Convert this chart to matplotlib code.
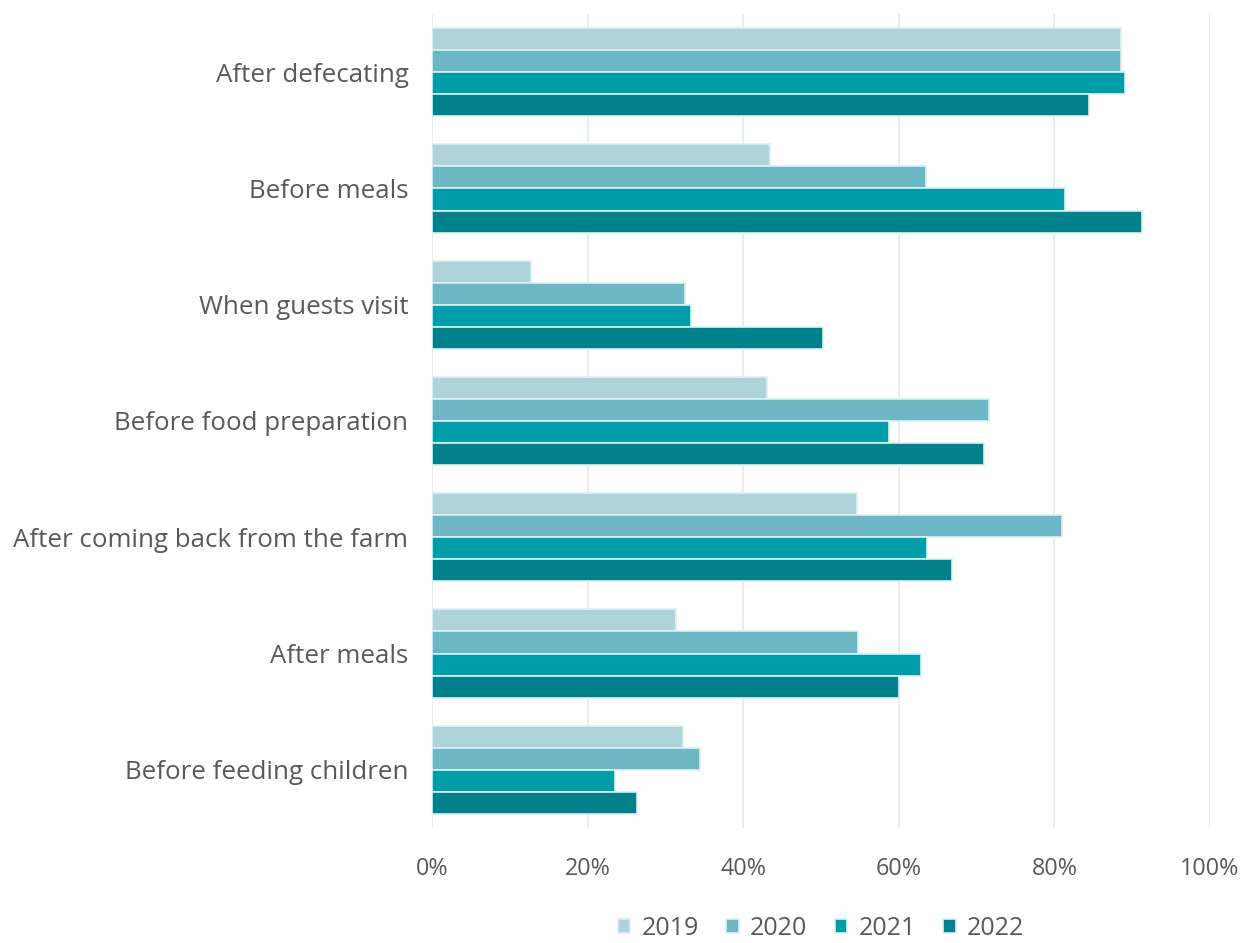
import numpy as np
import matplotlib.pyplot as plt
from matplotlib.ticker import PercentFormatter

# Handwashing occasions, top to bottom
occasions = ['After defecating', 'Before meals', 'When guests visit',
             'Before food preparation', 'After coming back from the farm',
             'After meals', 'Before feeding children']
years = ['2019', '2020', '2021', '2022']

pct_2019 = [88.5, 43.4, 12.7, 43.0, 54.6, 31.4, 32.2]
pct_2020 = [88.5, 63.5, 32.5, 71.6, 81.0, 54.8, 34.5]
pct_2021 = [89.1, 81.4, 33.3, 58.7, 63.6, 62.8, 23.5]
pct_2022 = [84.4, 91.3, 50.2, 71.0, 66.9, 60.0, 26.3]

colors = ['#AED3D9', '#6BB7C3', '#009DA8', '#00818C']
series = [pct_2019, pct_2020, pct_2021, pct_2022]

plt.rcParams['font.family'] = ['Open Sans', 'DejaVu Sans']

fig = plt.figure(figsize=(12.54, 9.43), dpi=100)
ax = fig.add_axes([432 / 1254, 1 - 828 / 943, 778 / 1254, 814 / 943])

y = np.arange(len(occasions))
slot = 0.19
for i, (vals, col, yr) in enumerate(zip(series, colors, years)):
    offs = (i - 1.5) * slot
    ax.barh(y + offs, vals, height=slot, color=col, edgecolor='#DDF0F2',
            linewidth=1.2, label=yr, zorder=3)

ax.set_ylim(len(occasions) - 0.5, -0.5)
ax.set_xlim(0, 100)
ax.set_xticks(np.arange(0, 101, 20))
ax.xaxis.set_major_formatter(PercentFormatter(decimals=0))
ax.set_yticks(y)
ax.set_yticklabels(occasions)

ax.grid(axis='x', color='#E6ECEC', linewidth=1.3, zorder=0)
for s in ax.spines.values():
    s.set_visible(False)
ax.tick_params(axis='y', length=0, labelsize=18.6, colors='#595959', pad=17)
ax.tick_params(axis='x', length=0, labelsize=16.8, colors='#595959', pad=21)

ax.legend(loc='center', bbox_to_anchor=(0.5, -0.123), ncol=4,
          frameon=False, fontsize=18, labelcolor='#595959',
          handlelength=0.5, handleheight=0.5, handletextpad=0.45,
          columnspacing=1.1)

fig.savefig('out.png', dpi=100)
